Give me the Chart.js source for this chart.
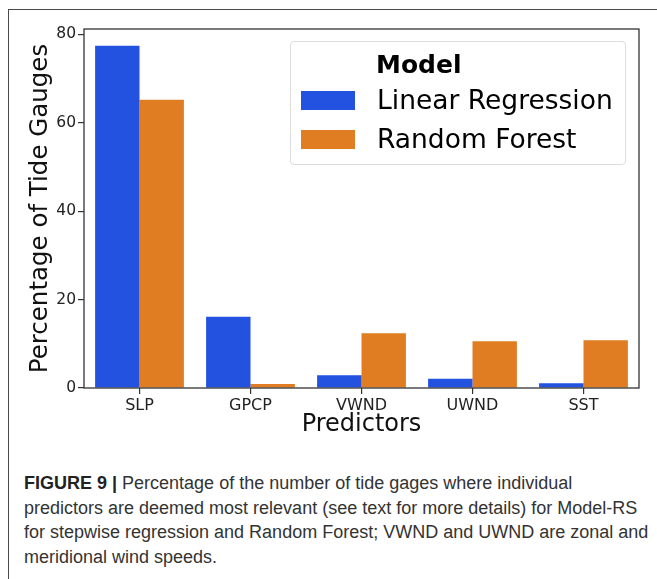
<!DOCTYPE html>
<html>
<head>
<meta charset="utf-8">
<script src="https://cdn.jsdelivr.net/npm/chart.js@4"></script>
<style>
  html, body { margin: 0; padding: 0; background: #fff; }
  #page { position: relative; width: 657px; height: 579px; overflow: hidden; }
  #frame {
    position: absolute; left: 8px; top: 9px; right: -10px; bottom: -10px;
    border-left: 1.5px solid #4a4a4a; border-top: 1.5px solid #4a4a4a;
  }
  #chartBox { position: absolute; left: 0; top: 0; width: 657px; height: 450px; }
  #legend {
    position: absolute; left: 290px; top: 41px; width: 334px; height: 122px;
    border: 1px solid #dcdcdc; border-radius: 4px; background: rgba(255,255,255,0.8);
    font-family: "DejaVu Sans", sans-serif; color: #000;
  }
  #legend .title { position: absolute; left: 85px; top: 8px; line-height: 30px; font-size: 25px; font-weight: bold; }
  #legend .swatch { position: absolute; left: 10px; width: 54px; height: 19px; }
  #legend .label { position: absolute; left: 86px; line-height: 30px; font-size: 26.5px; white-space: nowrap; }
  #caption {
    position: absolute; left: 24px; top: 471px; font-family: "Liberation Sans", Arial, sans-serif;
    font-size: 18px; line-height: 24.7px; color: #333; white-space: nowrap;
  }
  #caption b { color: #222; }
</style>
</head>
<body>
<div id="page">
  <div id="frame"></div>
  <div id="chartBox"><canvas id="barChart" width="657" height="450"></canvas></div>
  <div id="legend"></div>
  <div id="caption">
    <b>FIGURE 9 |</b> Percentage of the number of tide gages where individual<br>
    predictors are deemed most relevant (see text for more details) for Model-RS<br>
    for stepwise regression and Random Forest; VWND and UWND are zonal and<br>
    meridional wind speeds.
  </div>
</div>
<script>
const predictors = ['SLP', 'GPCP', 'VWND', 'UWND', 'SST'];
const linearRegression = [77.4, 16.1, 2.9, 2.1, 1.1];
const randomForest = [65.2, 0.9, 12.4, 10.6, 10.8];
const yTicks = [0, 20, 40, 60, 80];
const modelNames = ['Linear Regression', 'Random Forest'];
const modelColors = ['#2351e0', '#e07c22'];

const axisColor = '#333';

// closed box around the plot area
const frameBox = {
    id: 'frameBox',
    afterDatasetsDraw(chart) {
        const { ctx, chartArea: a } = chart;
        ctx.save();
        ctx.strokeStyle = axisColor;
        ctx.lineWidth = 1.3;
        ctx.strokeRect(a.left, a.top, a.right - a.left, a.bottom - a.top);
        ctx.restore();
    }
};

const chart = new Chart(document.getElementById('barChart'), {
    type: 'bar',
    data: {
        labels: predictors,
        datasets: [linearRegression, randomForest].map((values, i) => ({
            label: modelNames[i],
            data: values,
            backgroundColor: modelColors[i],
            borderWidth: 0,
            categoryPercentage: 0.8,
            barPercentage: 1.0
        }))
    },
    options: {
        responsive: false,
        animation: false,
        layout: { padding: { top: 29, right: 18, left: 0, bottom: 0 } },
        plugins: {
            legend: { display: false },
            tooltip: { enabled: false }
        },
        scales: {
            x: {
                grid: { offset: false, drawOnChartArea: false, drawTicks: true, tickLength: 6, color: axisColor, lineWidth: 1.2 },
                border: { display: false },
                ticks: { color: '#222', padding: 2, maxRotation: 0, font: { family: 'DejaVu Sans', size: 16 } },
                title: {
                    display: true, text: 'Predictors', color: '#111',
                    font: { family: 'DejaVu Sans', size: 24, lineHeight: 1.2 },
                    padding: { top: 0, bottom: 10.6 }
                },
                afterFit: s => { s.height = 62; }
            },
            y: {
                min: 0,
                max: 81.2,
                afterBuildTicks: s => { s.ticks = yTicks.map(v => ({ value: v })); },
                grid: { drawOnChartArea: false, drawTicks: true, tickLength: 6, color: axisColor, lineWidth: 1.2 },
                border: { display: false },
                ticks: { color: '#222', padding: 2, font: { family: 'DejaVu Sans', size: 15.5 } },
                title: {
                    display: true, text: 'Percentage of Tide Gauges', color: '#111',
                    font: { family: 'DejaVu Sans', size: 24.5, lineHeight: 1.2 },
                    padding: { top: 26, bottom: 0 }
                },
                afterFit: s => { s.width = 84; }
            }
        }
    },
    plugins: [frameBox]
});

// legend built from the datasets
const legend = document.getElementById('legend');
legend.innerHTML = '<div class="title">Model</div>' +
    chart.data.datasets.map((ds, i) => `
        <div class="swatch" style="top:${49 + i * 39}px;background:${ds.backgroundColor}"></div>
        <div class="label" style="top:${43 + i * 39}px">${ds.label}</div>`).join('');
</script>
</body>
</html>
